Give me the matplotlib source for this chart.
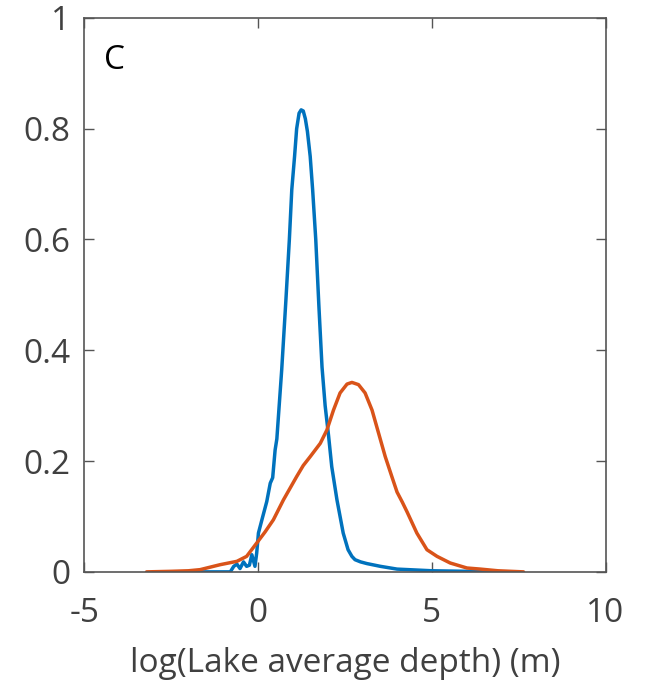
import matplotlib
matplotlib.use("Agg")
import matplotlib.pyplot as plt

# Blue series density
blue_x = [-2.35, -0.80, -0.70, -0.61, -0.52, -0.42, -0.33, -0.25, -0.18, -0.09, -0.04, 0.01,
          0.11, 0.25, 0.35, 0.42, 0.49, 0.54, 0.68, 0.80, 0.90, 0.97, 1.05, 1.11, 1.18, 1.24,
          1.30, 1.36, 1.42, 1.50, 1.57, 1.66, 1.75, 1.84, 1.93, 2.03, 2.12, 2.27, 2.45, 2.59,
          2.70, 2.79, 2.95, 3.13, 3.52, 4.0, 5.0, 6.0, 6.8]
blue_y = [0.0, 0.0, 0.010, 0.014, 0.006, 0.018, 0.010, 0.012, 0.031, 0.010, 0.034, 0.070,
          0.094, 0.127, 0.160, 0.170, 0.220, 0.240, 0.365, 0.490, 0.600, 0.690, 0.750, 0.800, 0.828, 0.834,
          0.832, 0.818, 0.795, 0.750, 0.690, 0.600, 0.480, 0.370, 0.300, 0.245, 0.190, 0.130, 0.070, 0.040,
          0.028, 0.022, 0.018, 0.015, 0.010, 0.005, 0.002, 0.001, 0.0]

# Orange series density
orange_x = [-3.21, -2.5, -2.0, -1.67, -1.09, -0.61, -0.33, -0.04, 0.20, 0.44, 0.73, 0.92, 1.11,
            1.30, 1.50, 1.79, 1.98, 2.17, 2.36, 2.56, 2.70, 2.89, 3.08, 3.28, 3.47, 3.66,
            3.85, 4.00, 4.15, 4.29, 4.57, 4.86, 5.15, 5.53, 6.01, 6.40, 6.9, 7.64]
orange_y = [0.0, 0.001, 0.002, 0.004, 0.013, 0.019, 0.028, 0.052, 0.072, 0.094, 0.130, 0.151, 0.172,
            0.192, 0.208, 0.232, 0.256, 0.292, 0.323, 0.339, 0.342, 0.338, 0.323, 0.292, 0.250, 0.208,
            0.172, 0.144, 0.126, 0.108, 0.070, 0.040, 0.028, 0.016, 0.007, 0.005, 0.002, 0.0]

x_ticks = [-5, 0, 5, 10]
y_ticks = [0, 0.2, 0.4, 0.6, 0.8, 1]
y_ticklabels = ["0", "0.2", "0.4", "0.6", "0.8", "1"]

plt.rcParams['font.family'] = ['Open Sans', 'DejaVu Sans']
plt.rcParams['axes.unicode_minus'] = False
txt = '#404040'

fig = plt.figure(figsize=(6.49, 6.89), dpi=100)
ax = fig.add_axes([0.130, 0.170, 0.803, 0.804])

ax.plot(blue_x, blue_y, color='#0072BD', lw=2.5, solid_joinstyle='round', solid_capstyle='round')
ax.plot(orange_x, orange_y, color='#D95319', lw=2.5, solid_joinstyle='round', solid_capstyle='round')

ax.set_xlim(-5, 10)
ax.set_ylim(0, 1)
ax.set_xticks(x_ticks)
ax.set_yticks(y_ticks)
ax.set_yticklabels(y_ticklabels)
ax.tick_params(direction='in', length=7, width=1, colors='#555555', labelcolor=txt,
               labelsize=24, top=True, right=True)
ax.tick_params(axis='x', pad=18)
ax.tick_params(axis='y', pad=10)
for s in ax.spines.values():
    s.set_color('#555555')
    s.set_linewidth(1.2)

ax.set_xlabel('log(Lake average depth) (m)', fontsize=24, color=txt, labelpad=12)
ax.text(-4.12, 0.924, 'C', fontsize=24, color='black', ha='center', va='center')

fig.savefig('out.png', dpi=100)
